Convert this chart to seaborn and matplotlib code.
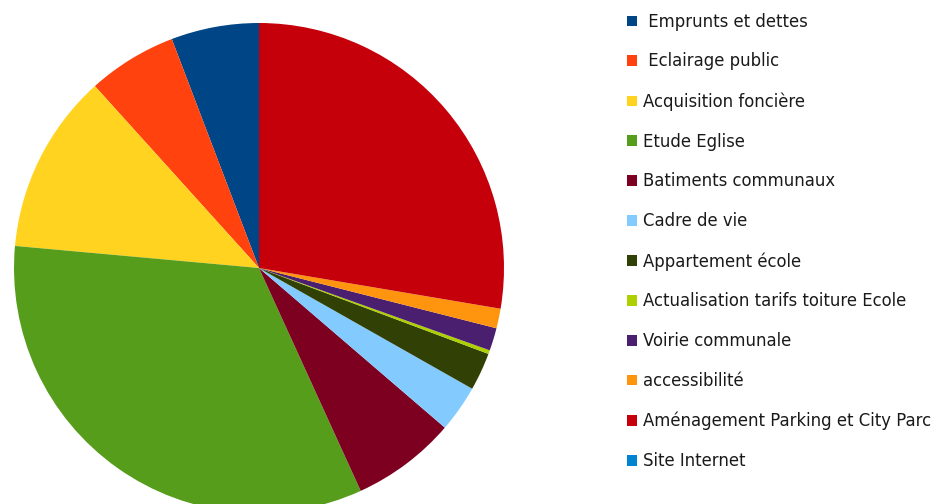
import matplotlib
matplotlib.use("Agg")
import matplotlib.pyplot as plt
import seaborn as sns
from matplotlib.patches import Patch

sns.set_theme(style="white")
plt.rcParams['font.family'] = ['DejaVu Sans']

labels = [" Emprunts et dettes", " Eclairage public", "Acquisition foncière",
          "Etude Eglise", "Batiments communaux", "Cadre de vie",
          "Appartement école", "Actualisation tarifs toiture Ecole",
          "Voirie communale", "accessibilité",
          "Aménagement Parking et City Parc", "Site Internet"]
values = [5.8, 5.9, 11.9, 33.3, 6.9, 3.1, 2.5, 0.25, 1.5, 1.3, 27.7, 0.0]
colors = sns.color_palette(["#004586", "#ff420e", "#ffd320", "#579d1c",
                            "#7e0021", "#83caff", "#314004", "#aecf00",
                            "#4b1f6f", "#ff950e", "#c5000b", "#0084d1"])

fig = plt.figure(figsize=(9.41, 5.04), dpi=100)
# pie centred at (259, 268) px from top-left, radius 245 px
ax = fig.add_axes([14 / 941, (504 - 268 - 245) / 504, 490 / 941, 490 / 504])
ax.pie(values, colors=colors, startangle=90, counterclock=True,
       radius=1.0, wedgeprops=dict(linewidth=0))
ax.set_xlim(-1, 1)
ax.set_ylim(-1, 1)
ax.set_aspect("equal")
ax.axis("off")

handles = [Patch(facecolor=c, edgecolor="none") for c in colors]
leg = fig.legend(handles, labels, loc="upper left",
                 bbox_to_anchor=(620 / 941, 1 - 6 / 504),
                 frameon=False, fontsize=11.9, handlelength=0.6, handleheight=0.6,
                 handletextpad=0.4, labelspacing=1.32, borderaxespad=0)
for t in leg.get_texts():
    t.set_color("#1a1a1a")

fig.savefig("out.png", dpi=100)
